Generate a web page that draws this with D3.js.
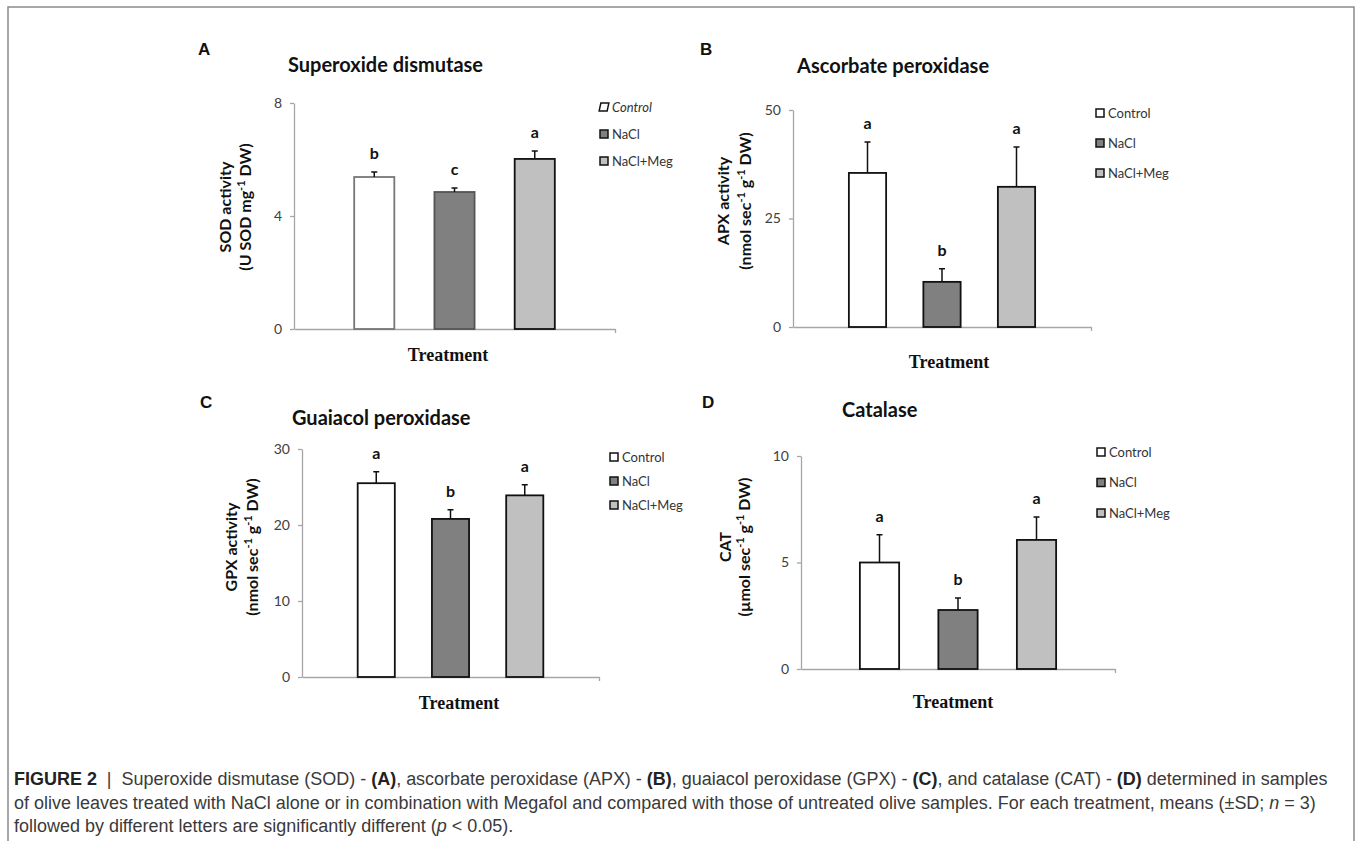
<!DOCTYPE html>
<html>
<head>
<meta charset="utf-8">
<script src="https://cdn.jsdelivr.net/npm/d3@7"></script>
<style>
  body { margin: 0; background: #fff; }
  svg { display: block; }
</style>
</head>
<body>
<script>

// Categories (legend + bars)
var treatments = ["Control", "NaCl", "NaCl+Meg"];

// A - Superoxide dismutase
var sodMean = [5.38, 4.85, 6.02];
var sodSd = [0.18, 0.14, 0.28];
var sodLetters = ["b", "c", "a"];
var sodTicks = [0, 4, 8];

// B - Ascorbate peroxidase
var apxMean = [35.5, 10.4, 32.3];
var apxSd = [7.1, 3.0, 9.2];
var apxLetters = ["a", "b", "a"];
var apxTicks = [0, 25, 50];

// C - Guaiacol peroxidase
var gpxMean = [25.5, 20.8, 23.9];
var gpxSd = [1.5, 1.2, 1.4];
var gpxLetters = ["a", "b", "a"];
var gpxTicks = [0, 10, 20, 30];

// D - Catalase
var catMean = [5.0, 2.77, 6.06];
var catSd = [1.3, 0.56, 1.08];
var catLetters = ["a", "b", "a"];
var catTicks = [0, 5, 10];

var fills = {"Control": "#ffffff", "NaCl": "#808080", "NaCl+Meg": "#c0c0c0"};

var sansFont = "Lato, 'Open Sans', sans-serif";

var svg = d3.select("body").append("svg")
    .attr("width", 1356)
    .attr("height", 841);

// frame (open at the bottom)
svg.append("path")
    .attr("d", "M8,841V7H1354V841")
    .attr("fill", "none")
    .attr("stroke", "#8a8a8a")
    .attr("stroke-width", 1.5);

var panels = [
    {
        tag: "A", tagX: 198, tagY: 55,
        title: "Superoxide dismutase", titleX: 288, titleY: 72,
        mean: sodMean, sd: sodSd, letters: sodLetters, ticks: sodTicks,
        left: 294, right: 615, top: 103, bottom: 329,
        ylab1: "SOD activity",
        ylab2: [["(U SOD mg", 0], ["-1", 1], [" DW)", 0]],
        ylabX: [231, 251], ylabY: 207,
        legX: 600, legY: 107, legStep: 27, italicControl: true,
        treatX: 448, treatY: 361,
        strokes: ["#777", "#555", "#111"]
    },
    {
        tag: "B", tagX: 700, tagY: 55,
        title: "Ascorbate peroxidase", titleX: 797, titleY: 73,
        mean: apxMean, sd: apxSd, letters: apxLetters, ticks: apxTicks,
        left: 793, right: 1091, top: 110, bottom: 327,
        ylab1: "APX activity",
        ylab2: [["(nmol sec", 0], ["-1", 1], [" g", 0], ["-1", 1], [" DW)", 0]],
        ylabX: [729, 751], ylabY: 201,
        legX: 1096, legY: 113, legStep: 30, italicControl: false,
        treatX: 949, treatY: 368,
        strokes: ["#111", "#111", "#111"]
    },
    {
        tag: "C", tagX: 200, tagY: 408,
        title: "Guaiacol peroxidase", titleX: 292, titleY: 425,
        mean: gpxMean, sd: gpxSd, letters: gpxLetters, ticks: gpxTicks,
        left: 302, right: 599, top: 449, bottom: 677,
        ylab1: "GPX activity",
        ylab2: [["(nmol sec", 0], ["-1", 1], [" g", 0], ["-1", 1], [" DW)", 0]],
        ylabX: [237, 258], ylabY: 547,
        legX: 610, legY: 457, legStep: 24, italicControl: false,
        treatX: 459, treatY: 709,
        strokes: ["#111", "#111", "#111"]
    },
    {
        tag: "D", tagX: 702, tagY: 408,
        title: "Catalase", titleX: 842, titleY: 417,
        mean: catMean, sd: catSd, letters: catLetters, ticks: catTicks,
        left: 801, right: 1115, top: 456, bottom: 669,
        ylab1: "CAT",
        ylab2: [["(\u00b5mol sec", 0], ["-1", 1], [" g", 0], ["-1", 1], [" DW)", 0]],
        ylabX: [731, 750], ylabY: 547,
        legX: 1097, legY: 452, legStep: 30.5, italicControl: false,
        treatX: 953, treatY: 708,
        strokes: ["#111", "#111", "#111"]
    }
];

panels.forEach(drawPanel);

function drawPanel(p) {
    var g = svg.append("g").attr("class", "panel-" + p.tag);

    var x = d3.scaleBand()
        .domain(treatments)
        .range([p.left, p.right])
        .paddingInner(0.5)
        .paddingOuter(0.75);

    var y = d3.scaleLinear()
        .domain([0, p.ticks[p.ticks.length - 1]])
        .range([p.bottom, p.top]);

    var rows = treatments.map(function(t, i) {
        return {name: t, mean: p.mean[i], sd: p.sd[i], letter: p.letters[i], i: i};
    });

    // panel tag
    g.append("text")
        .attr("x", p.tagX)
        .attr("y", p.tagY)
        .attr("font-family", "'Liberation Sans', Arial, sans-serif")
        .attr("font-weight", "bold")
        .attr("font-size", 17)
        .attr("fill", "#111")
        .text(p.tag);

    // title
    g.append("text")
        .attr("x", p.titleX)
        .attr("y", p.titleY)
        .attr("font-family", sansFont)
        .attr("font-weight", "bold")
        .attr("font-size", 20)
        .attr("fill", "#111")
        .text(p.title);

    // y axis
    var yAxis = g.append("g")
        .attr("transform", "translate(" + p.left + ",0)")
        .call(d3.axisLeft(y).tickValues(p.ticks).tickSize(4).tickSizeOuter(0).tickPadding(8));
    yAxis.select(".domain").attr("stroke", "#a6a6a6").attr("stroke-width", 1.3);
    yAxis.selectAll(".tick line").attr("stroke", "#a6a6a6").attr("stroke-width", 1.3);
    yAxis.selectAll(".tick text")
        .attr("font-family", sansFont)
        .attr("font-size", 14)
        .attr("fill", "#404040");

    // x axis: plain baseline with one end tick
    var xLine = d3.scaleLinear().domain([0, 1]).range([p.left, p.right]);
    var xAxis = g.append("g")
        .attr("transform", "translate(0," + p.bottom + ")")
        .call(d3.axisBottom(xLine).tickValues([1]).tickSize(4).tickSizeOuter(0).tickFormat(""));
    xAxis.select(".domain").attr("stroke", "#a6a6a6").attr("stroke-width", 1.3);
    xAxis.selectAll(".tick line").attr("stroke", "#a6a6a6").attr("stroke-width", 1.3);

    // bars
    g.selectAll(".bar")
        .data(rows)
        .enter().append("rect")
        .attr("class", "bar")
        .attr("x", function(d) { return x(d.name); })
        .attr("width", x.bandwidth())
        .attr("y", function(d) { return y(d.mean); })
        .attr("height", function(d) { return p.bottom - y(d.mean); })
        .attr("fill", function(d) { return fills[d.name]; })
        .attr("stroke", function(d) { return p.strokes[d.i]; })
        .attr("stroke-width", 1.8);

    // error bars (upper whisker only)
    var cx = function(d) { return x(d.name) + x.bandwidth() / 2; };
    g.selectAll(".err")
        .data(rows)
        .enter().append("path")
        .attr("class", "err")
        .attr("d", function(d) {
            var c = cx(d), y0 = y(d.mean), y1 = y(d.mean + d.sd);
            return "M" + c + "," + y0 + "V" + y1 + "M" + (c - 3) + "," + y1 + "H" + (c + 3);
        })
        .attr("fill", "none")
        .attr("stroke", "#111")
        .attr("stroke-width", 1.5);

    // significance letters
    g.selectAll(".letter")
        .data(rows)
        .enter().append("text")
        .attr("class", "letter")
        .attr("x", cx)
        .attr("y", function(d) { return y(d.mean + d.sd) - 13; })
        .attr("text-anchor", "middle")
        .attr("font-family", sansFont)
        .attr("font-weight", "bold")
        .attr("font-size", 16)
        .attr("fill", "#111")
        .text(function(d) { return d.letter; });

    // y label, two lines
    g.append("text")
        .attr("transform", "translate(" + p.ylabX[0] + "," + p.ylabY + ") rotate(-90)")
        .attr("text-anchor", "middle")
        .attr("font-family", sansFont)
        .attr("font-weight", "bold")
        .attr("font-size", 16)
        .attr("fill", "#111")
        .text(p.ylab1);

    var l2 = g.append("text")
        .attr("transform", "translate(" + p.ylabX[1] + "," + p.ylabY + ") rotate(-90)")
        .attr("text-anchor", "middle")
        .attr("font-family", sansFont)
        .attr("font-weight", "bold")
        .attr("font-size", 16)
        .attr("fill", "#111");
    var shift = 0;
    p.ylab2.forEach(function(s) {
        var want = s[1] ? -6 : 0;
        l2.append("tspan")
            .attr("dy", want - shift)
            .attr("font-size", s[1] ? 11 : 16)
            .text(s[0]);
        shift = want;
    });

    // x label
    g.append("text")
        .attr("x", p.treatX)
        .attr("y", p.treatY)
        .attr("text-anchor", "middle")
        .attr("font-family", "'Liberation Serif', 'Times New Roman', serif")
        .attr("font-weight", "bold")
        .attr("font-size", 18)
        .attr("fill", "#111")
        .text("Treatment");

    // legend
    var leg = g.selectAll(".leg")
        .data(rows)
        .enter().append("g")
        .attr("class", "leg")
        .attr("transform", function(d) {
            return "translate(" + p.legX + "," + (p.legY + d.i * p.legStep) + ")";
        });
    leg.append("rect")
        .attr("x", 0)
        .attr("y", -4)
        .attr("width", 8)
        .attr("height", 8)
        .attr("transform", function(d) { return (p.italicControl && d.i === 0) ? "skewX(-12)" : null; })
        .attr("fill", function(d) { return fills[d.name]; })
        .attr("stroke", "#111")
        .attr("stroke-width", 1.5);
    leg.append("text")
        .attr("x", 12)
        .attr("y", 4.5)
        .attr("font-family", sansFont)
        .attr("font-size", 13)
        .attr("font-style", function(d) { return (p.italicControl && d.i === 0) ? "italic" : null; })
        .attr("fill", "#333")
        .text(function(d) { return d.name; });
}

// caption
var capFont = "'Liberation Sans', Arial, Helvetica, sans-serif";
var captionLines = [
    [["FIGURE 2", "b"], ["  |  ", "n"], ["Superoxide dismutase (SOD) - ", "n"], ["(A)", "b"],
     [", ascorbate peroxidase (APX) - ", "n"], ["(B)", "b"], [", guaiacol peroxidase (GPX) - ", "n"],
     ["(C)", "b"], [", and catalase (CAT) - ", "n"], ["(D)", "b"], [" determined in samples", "n"]],
    [["of olive leaves treated with NaCl alone or in combination with Megafol and compared with those of untreated olive samples. For each treatment, means (\u00b1SD; ", "n"],
     ["n", "i"], [" = 3)", "n"]],
    [["followed by different letters are significantly different (", "n"], ["p", "i"], [" < 0.05).", "n"]]
];

var caption = svg.append("g").attr("class", "caption");
var capLines = [];
captionLines.forEach(function(line, k) {
    var t = caption.append("text")
        .attr("x", 14)
        .attr("y", 785 + k * 23.5)
        .attr("font-family", capFont)
        .attr("font-size", 16)
        .attr("fill", "#3a3a3a")
        .attr("xml:space", "preserve")
        .style("white-space", "pre");
    line.forEach(function(s) {
        t.append("tspan")
            .attr("font-weight", s[1] === "b" ? "bold" : null)
            .attr("font-style", s[1] === "i" ? "italic" : null)
            .attr("fill", s[1] === "b" ? "#222" : null)
            .text(s[0]);
    });
    capLines.push(t);
});

// first caption line runs from x=14 to about x=1329
var firstLen = capLines[0].node().getComputedTextLength();
var capSize = 16 * 1315 / firstLen;
capLines.forEach(function(t) { t.attr("font-size", capSize); });

</script>
</body>
</html>
